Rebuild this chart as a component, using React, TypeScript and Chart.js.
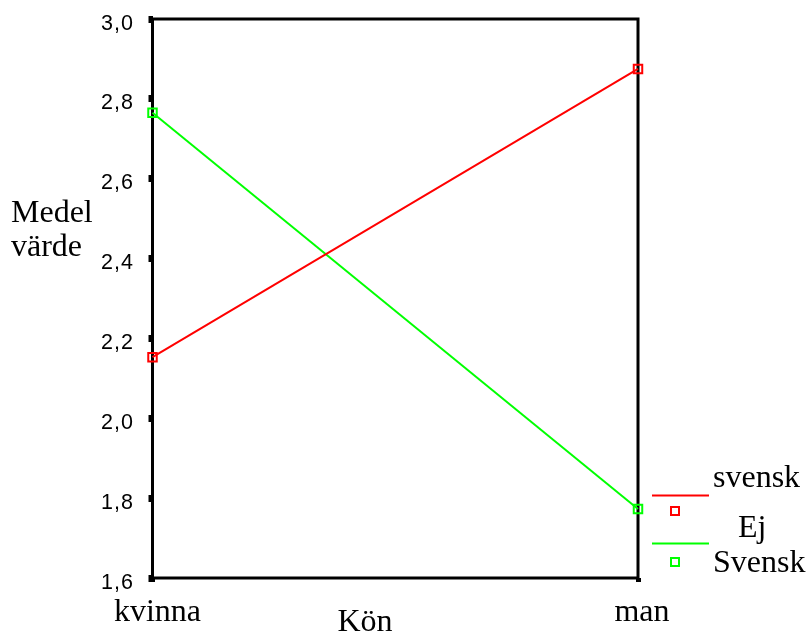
import React, { useEffect, useRef } from "react";
import { Chart, registerables } from "chart.js";

Chart.register(...registerables);

const categories = ["kvinna", "man"];
const ejSvensk = [2.153, 2.875];
const svensk = [2.765, 1.773];
const yTicks = [1.6, 1.8, 2.0, 2.2, 2.4, 2.6, 2.8, 3.0];
const legendLabels = ["svensk", "Ej", "Svensk"];
const xTitle = "Kön";
const yTitle = ["Medel", "värde"];

const RED = "#ff0000";
const GREEN = "#00ff00";
const SERIF = "'Liberation Serif', 'Times New Roman', serif";
const SANS = "'Liberation Sans', Arial, sans-serif";

const overlay = {
  id: "overlay",
  beforeDatasetsDraw(chart: any) {
    const { ctx, chartArea } = chart;
    ctx.save();
    ctx.strokeStyle = "#000";
    ctx.lineWidth = 3;
    ctx.strokeRect(chartArea.left, chartArea.top, chartArea.right - chartArea.left, chartArea.bottom - chartArea.top);
    ctx.restore();
  },
  afterDraw(chart: any) {
    const { ctx, scales } = chart;
    ctx.save();
    ctx.fillStyle = "#000";
    // y tick labels
    ctx.font = `21.5px ${SANS}`;
    (ctx as any).letterSpacing = "1px";
    ctx.textAlign = "right";
    ctx.textBaseline = "alphabetic";
    yTicks.forEach((v) => {
      const y = scales.y.getPixelForValue(v);
      ctx.fillText(v.toFixed(1).replace(".", ","), 134, y + 10.5);
    });
    (ctx as any).letterSpacing = "0px";
    // x tick labels
    ctx.font = `32px ${SERIF}`;
    ctx.textAlign = "center";
    categories.forEach((c, i) => {
      const x = scales.x.getPixelForValue(i);
      ctx.fillText(c, x + (i === 0 ? 5 : 4), 621);
    });
    ctx.fillText(xTitle, 365, 631);
    ctx.textAlign = "left";
    ctx.fillText(yTitle[0], 11, 222);
    ctx.fillText(yTitle[1], 11, 256);
    // legend
    ctx.fillText(legendLabels[0], 713, 487);
    ctx.fillText(legendLabels[1], 738, 537);
    ctx.fillText(legendLabels[2], 713, 572);
    ctx.lineWidth = 2;
    ctx.strokeStyle = RED;
    ctx.beginPath();
    ctx.moveTo(652, 495.5);
    ctx.lineTo(709, 495.5);
    ctx.stroke();
    ctx.strokeRect(671, 507, 8, 8);
    ctx.strokeStyle = GREEN;
    ctx.beginPath();
    ctx.moveTo(652, 543.5);
    ctx.lineTo(709, 543.5);
    ctx.stroke();
    ctx.strokeRect(671, 558, 8, 8);
    ctx.restore();
  },
};

export default function App() {
  const ref = useRef<HTMLCanvasElement | null>(null);
  useEffect(() => {
    document.body.style.margin = "0";
    const chart = new Chart(ref.current as HTMLCanvasElement, {
      type: "line",
      data: {
        labels: categories,
        datasets: [
          {
            label: "Ej svensk",
            data: ejSvensk,
            borderColor: RED,
            borderWidth: 2,
            pointStyle: "rect",
            pointRadius: 6,
            pointBorderWidth: 2,
            pointBorderColor: RED,
            pointBackgroundColor: "rgba(0,0,0,0)",
            tension: 0,
            clip: false as any,
          },
          {
            label: "Svensk",
            data: svensk,
            borderColor: GREEN,
            borderWidth: 2,
            pointStyle: "rect",
            pointRadius: 6,
            pointBorderWidth: 2,
            pointBorderColor: GREEN,
            pointBackgroundColor: "rgba(0,0,0,0)",
            tension: 0,
            clip: false as any,
          },
        ],
      },
      options: {
        animation: false,
        responsive: true,
        maintainAspectRatio: false,
        layout: { padding: { left: 0, top: 19, right: 170, bottom: 0 } },
        plugins: { legend: { display: false }, tooltip: { enabled: false } },
        scales: {
          x: {
            type: "category",
            offset: false,
            border: { display: false },
            grid: { drawOnChartArea: false, tickLength: 4, tickWidth: 5, color: "#000" },
            ticks: { display: false },
            afterFit(scale: any) {
              scale.height = 56;
            },
          },
          y: {
            min: 1.6,
            max: 3.0,
            border: { display: false },
            grid: { drawOnChartArea: false, tickLength: 4, tickWidth: 7, color: "#000" },
            afterBuildTicks(scale: any) {
              scale.ticks = yTicks.map((v) => ({ value: v }));
            },
            ticks: { display: false },
            afterFit(scale: any) {
              scale.width = 152.5;
            },
          },
        },
      },
      plugins: [overlay],
    });
    return () => chart.destroy();
  }, []);
  return (
    <div style={{ position: "fixed", left: 0, top: 0, width: 808, height: 634, background: "#fff" }}>
      <canvas ref={ref} />
    </div>
  );
}
